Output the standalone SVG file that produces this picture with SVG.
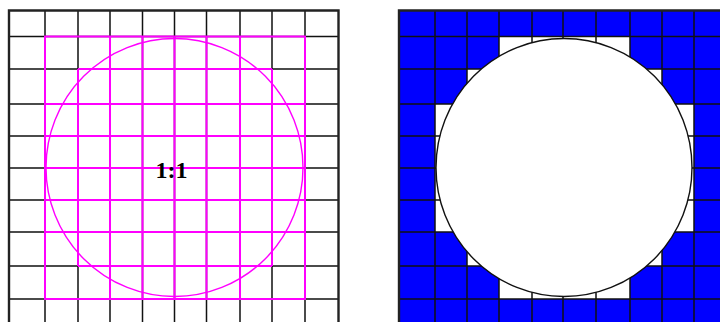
<svg xmlns="http://www.w3.org/2000/svg" width="720" height="322" viewBox="0 0 720 322">
<style>
.g{stroke:#111;stroke-width:1.5;fill:none}
.o{stroke:#222;stroke-width:2.4;fill:none}
.m{stroke:#FF00FF;stroke-width:2;fill:none}
</style>
<rect width="720" height="322" fill="#fff"/>
<g id="left-panel">
<g id="left-grid" class="g">
<path d="M45 11V322M78 11V322M110 11V322M142.5 11V322M174.5 11V322M206.5 11V322M240 11V322M272 11V322M305 11V322"/>
<path d="M9 36.5H338M9 69H338M9 104H338M9 136H338M9 168H338M9 200H338M9 232H338M9 266H338M9 299H338"/>
</g>
<path class="o" d="M9 322V10.5H338.5V322"/>
<g id="left-cells" class="m">
<rect x="45" y="36.5" width="260" height="262.5"/>
<path d="M78 69H272M45 104H305M45 136H305M45 168H305M45 200H305M45 232H305M78 266H272"/>
<path d="M78 69V266M110 36.5V299M142.5 36.5V299M174.5 36.5V299M206.5 36.5V299M240 36.5V299M272 69V266"/>
</g>
<ellipse id="left-circle" cx="174.5" cy="167.5" rx="128.5" ry="129" fill="none" stroke="#FF00FF" stroke-width="1.4"/>
<text id="ratio" x="171.5" y="177.5" font-family="Liberation Serif, serif" font-weight="bold" font-size="24" text-anchor="middle" fill="#000">1:1</text>
</g>
<g id="right-panel">
<rect x="399" y="11" width="321" height="311" fill="#0000FF"/>
<g id="right-cells" fill="#fff">
<rect x="499" y="36.5" width="131" height="32.5"/>
<rect x="467" y="69" width="195" height="35"/>
<rect x="435" y="104" width="259" height="128"/>
<rect x="467" y="232" width="195" height="34"/>
<rect x="499" y="266" width="131" height="33"/>
</g>
<g id="right-grid" class="g">
<path d="M435 11V322M467 11V322M499 11V322M532 11V322M563 11V322M596 11V322M630 11V322M662 11V322M694 11V322"/>
<path d="M399 36.5H720M399 69H720M399 104H720M399 136H720M399 168H720M399 200H720M399 232H720M399 266H720M399 299H720"/>
</g>
<path class="o" d="M399 322V10.5H720"/>
<ellipse id="right-circle" cx="564" cy="167.5" rx="128" ry="129" fill="#fff" stroke="#111" stroke-width="1.4"/>
</g>
</svg>
